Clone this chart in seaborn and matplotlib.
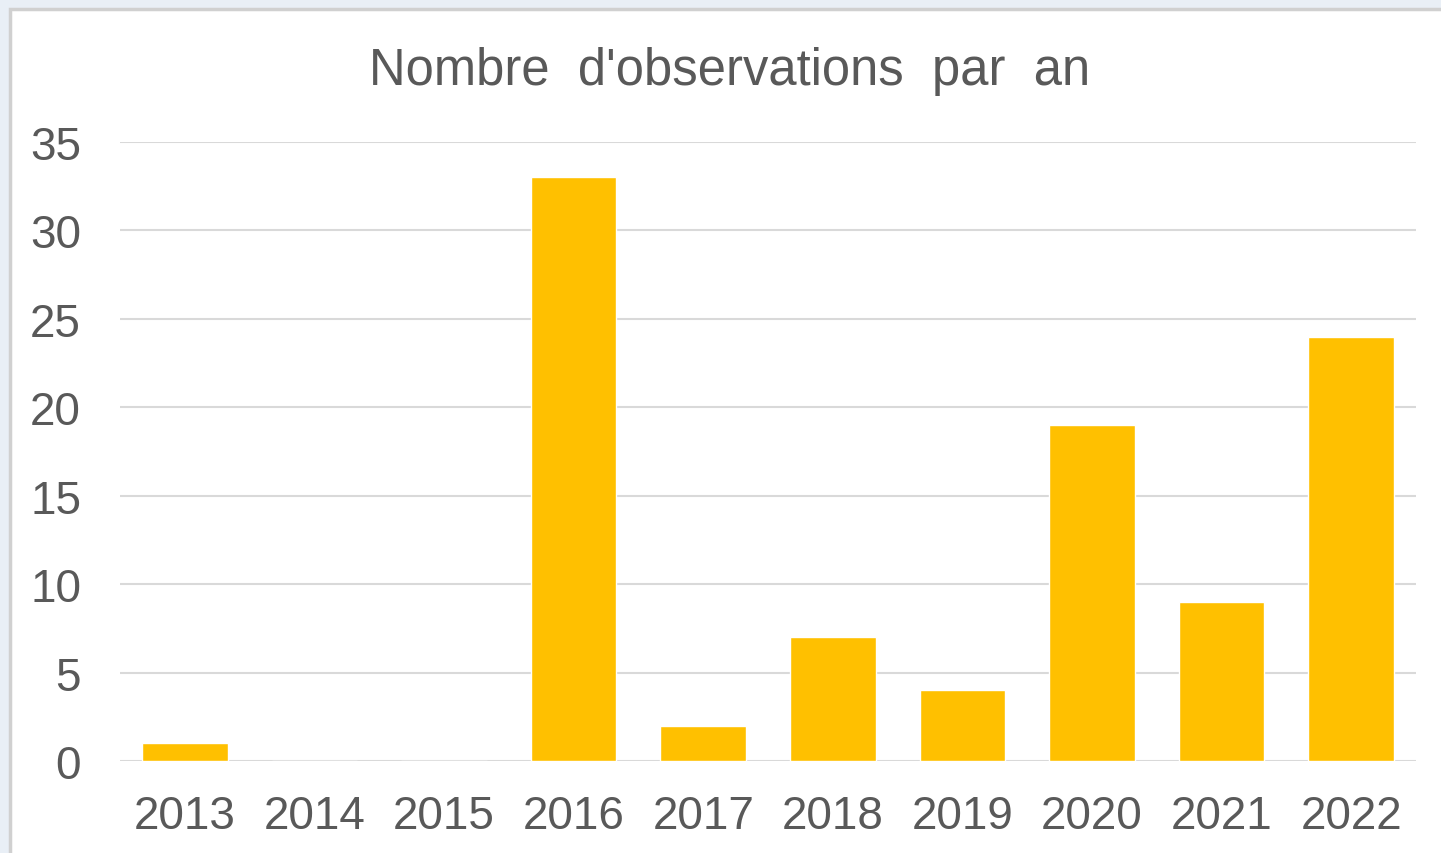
import matplotlib
matplotlib.use("Agg")
import matplotlib.pyplot as plt
import matplotlib.patches as mpatches
import pandas as pd
import seaborn as sns

years = ["2013", "2014", "2015", "2016", "2017", "2018", "2019", "2020", "2021", "2022"]
counts = [1, 0, 0, 33, 2, 7, 4, 19, 9, 24]
y_ticks = [0, 5, 10, 15, 20, 25, 30, 35]
title = "Nombre  d'observations  par  an"

df = pd.DataFrame({"year": years, "count": counts})

sns.set_theme(style="white")
plt.rcParams["font.family"] = ["Liberation Sans", "DejaVu Sans"]

fig = plt.figure(figsize=(14.41, 8.54), dpi=100)
fig.patch.set_facecolor("#E9EFF6")

# white chart box with thin grey border, like the Excel frame
W, H = 1441, 854
frame = mpatches.Rectangle((10 / W, -0.01), 1.02, 1 - 10 / H + 0.01,
                           transform=fig.transFigure, facecolor="white",
                           edgecolor="#D0D0D0", linewidth=2.5, zorder=-5)
fig.patches.append(frame)

ax = fig.add_axes([120 / W, 1 - 762 / H, 1296 / W, (762 - 143) / H])
ax.set_facecolor("none")

sns.barplot(data=df, x="year", y="count", color="#FFC000", width=0.66,
            saturation=1, ax=ax, zorder=3)

ax.set_xlim(-0.5, len(years) - 0.5)
ax.set_ylim(0, 35)
ax.set_yticks(y_ticks)
ax.yaxis.grid(True, color="#D9D9D9", linewidth=1.5, zorder=0)
ax.set_axisbelow(True)
for s in ax.spines.values():
    s.set_visible(False)
ax.axhline(0, color="#D9D9D9", linewidth=1.8, zorder=2)

ax.tick_params(axis="both", length=0, labelsize=33, labelcolor="#595959")
ax.tick_params(axis="x", pad=24)
ax.tick_params(axis="y", pad=28)
ax.set_xlabel("")
ax.set_ylabel("")

fig.text(730 / W, 1 - 72 / H, title, ha="center", va="center",
         fontsize=36.5, color="#595959")

fig.savefig("out.png", dpi=100, facecolor=fig.get_facecolor())
